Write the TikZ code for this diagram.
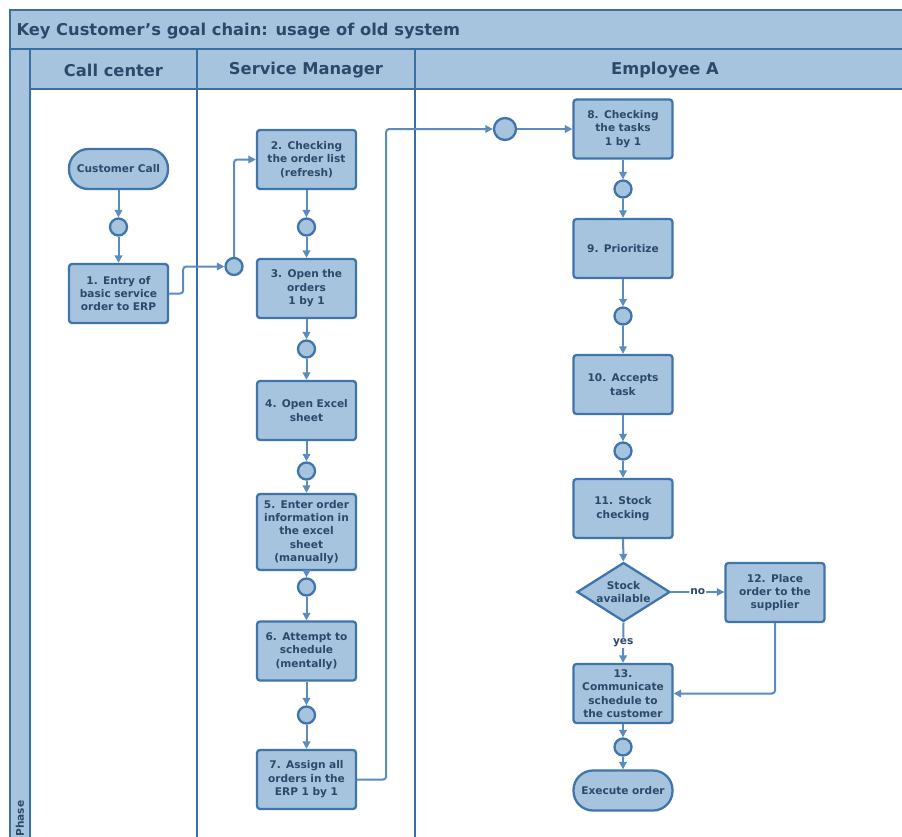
\documentclass[tikz,border=0pt]{standalone}
\usepackage{fontspec}
\setmainfont{DejaVu Sans}
\usetikzlibrary{shapes.geometric,arrows.meta}
\definecolor{fillblue}{HTML}{A7C4DE}
\definecolor{edgeblue}{HTML}{3F75AA}
\definecolor{laneblue}{HTML}{3A6EA5}
\definecolor{flowblue}{HTML}{5A8CBE}
\definecolor{inkblue}{HTML}{2B4A6B}
\tikzset{
  every node/.style={font=\bfseries, text=inkblue},
  stepbox/.style={draw=edgeblue, line width=2.3pt, fill=fillblue, rounded corners=3pt,
    minimum width=99pt, minimum height=59pt, inner sep=0pt, text width=97pt, align=center,
    font=\fontsize{10.6}{13.4}\selectfont\bfseries},
  terminal/.style={stepbox, rounded corners=19.5pt, minimum height=40pt},
  joint/.style={circle, draw=edgeblue, line width=2.3pt, fill=fillblue, minimum size=17pt, inner sep=0pt},
  bigjoint/.style={joint, minimum size=22pt},
  decision/.style={diamond, draw=edgeblue, line width=2.3pt, fill=fillblue, aspect=1.6,
    minimum width=93pt, minimum height=59pt, inner sep=0pt, align=center,
    font=\fontsize{10.6}{13.4}\selectfont\bfseries},
  conn/.style={draw=flowblue, line width=2pt, rounded corners=3pt,
    -{Triangle[length=7.5pt,width=7.5pt]}},
  lane/.style={draw=laneblue, line width=2.6pt},
  band/.style={draw=laneblue, line width=2.6pt, fill=fillblue},
  flowlabel/.style={fill=white, inner sep=1pt, font=\fontsize{10.6}{12}\selectfont\bfseries},
  headtext/.style={font=\fontsize{16.3}{19}\selectfont\bfseries},
}
\begin{document}
\begin{tikzpicture}[x=1pt,y=-1pt]
\useasboundingbox (0,0) rectangle (902,836);
\clip (0,0) rectangle (902,836);

% swimlane frame
\fill[white] (0,0) rectangle (902,836);
\draw[band] (10,10) rectangle (920,49);
\draw[band] (30,49) rectangle (920,89);
\draw[band] (10,49) rectangle (30,850);
\draw[lane] (30,89) -- (30,850);
\draw[lane] (197,49) -- (197,850);
\draw[lane] (415,49) -- (415,850);
\node[anchor=west, headtext] (title) at (13,31) {Key Customer’s goal chain: usage of old system};
\node[headtext] (hcall) at (113.5,70) {Call center};
\node[headtext] (hsm) at (306,70) {Service Manager};
\node[headtext] (hemp) at (665,70) {Employee A};
\node[rotate=90, anchor=west, font=\fontsize{10.6}{12}\selectfont\bfseries] (phase) at (20,840) {Phase};

% call center lane
\node[terminal] (call) at (118.5,169) {Customer Call};
\node[joint] (j1) at (118.5,227) {};
\node[stepbox] (s1) at (118.5,293.5) {1. Entry of\\basic service\\order to ERP};
\node[joint] (j2) at (234,266.5) {};

% service manager lane
\node[stepbox] (s2) at (306.5,159.5) {2. Checking\\the order list\\(refresh)};
\node[joint] (j3) at (306.5,227) {};
\node[stepbox] (s3) at (306.5,288.5) {3. Open the\\orders\\1 by 1\\[6pt]};
\node[joint] (j4) at (306.5,349) {};
\node[stepbox] (s4) at (306.5,410.5) {4. Open Excel\\sheet};
\node[joint] (j5) at (306.5,471) {};
\node[stepbox, minimum height=76pt] (s5) at (306.5,532) {5. Enter order\\information in\\the excel\\sheet\\(manually)};
\node[joint] (j6) at (306.5,587) {};
\node[stepbox] (s6) at (306.5,651) {6. Attempt to\\schedule\\(mentally)};
\node[joint] (j7) at (306.5,715) {};
\node[stepbox] (s7) at (306.5,779.5) {7. Assign all\\orders in the\\ERP 1 by 1};

% employee lane
\node[bigjoint] (j8) at (505,129) {};
\node[stepbox] (s8) at (623,129) {8. Checking\\the tasks\\1 by 1};
\node[joint] (j9) at (623,189) {};
\node[stepbox] (s9) at (623,248.5) {9. Prioritize};
\node[joint] (j10) at (623,316) {};
\node[stepbox] (s10) at (623,384.5) {10. Accepts\\task\\[4pt]};
\node[joint] (j11) at (623,451) {};
\node[stepbox] (s11) at (623,508.5) {11. Stock\\checking\\[4pt]};
\node[decision] (d1) at (623.5,592) {Stock\\available};
\node[stepbox] (s12) at (775,592.5) {12. Place\\order to the\\supplier\\[4pt]};
\node[stepbox] (s13) at (623,693.5) {13.\\Communicate\\schedule to\\the customer};
\node[joint] (j12) at (623,747) {};
\node[terminal] (done) at (623,790.5) {Execute order};

% flow
\draw[conn] (call) -- (j1);
\draw[conn] (j1) -- (s1);
\draw[conn] (s1.east) -- ++(14,0) |- (j2.west);
\draw[conn] (j2.north) |- (s2.west);
\draw[conn] (s2) -- (j3);
\draw[conn] (j3) -- (s3);
\draw[conn] (s3) -- (j4);
\draw[conn] (j4) -- (s4);
\draw[conn] (s4) -- (j5);
\draw[conn] (j5) -- (s5);
\draw[conn] (s5) -- (j6);
\draw[conn] (j6) -- (s6);
\draw[conn] (s6) -- (j7);
\draw[conn] (j7) -- (s7);
\draw[conn] (s7.east) -- ++(29,0) |- (j8.west);
\draw[conn] (j8) -- (s8);
\draw[conn] (s8) -- (j9);
\draw[conn] (j9) -- (s9);
\draw[conn] (s9) -- (j10);
\draw[conn] (j10) -- (s10);
\draw[conn] (s10) -- (j11);
\draw[conn] (j11) -- (s11);
\draw[conn] (s11) -- (d1);
\draw[conn] (d1.east) -- node[flowlabel] (lno) {no} (s12.west |- d1.east);
\draw[conn] (d1.south) -- node[flowlabel] (lyes) {yes} (s13.north);
\draw[conn] (s12.south) |- (s13.east);
\draw[conn] (s13) -- (j12);
\draw[conn] (j12) -- (done);
\end{tikzpicture}
\end{document}
